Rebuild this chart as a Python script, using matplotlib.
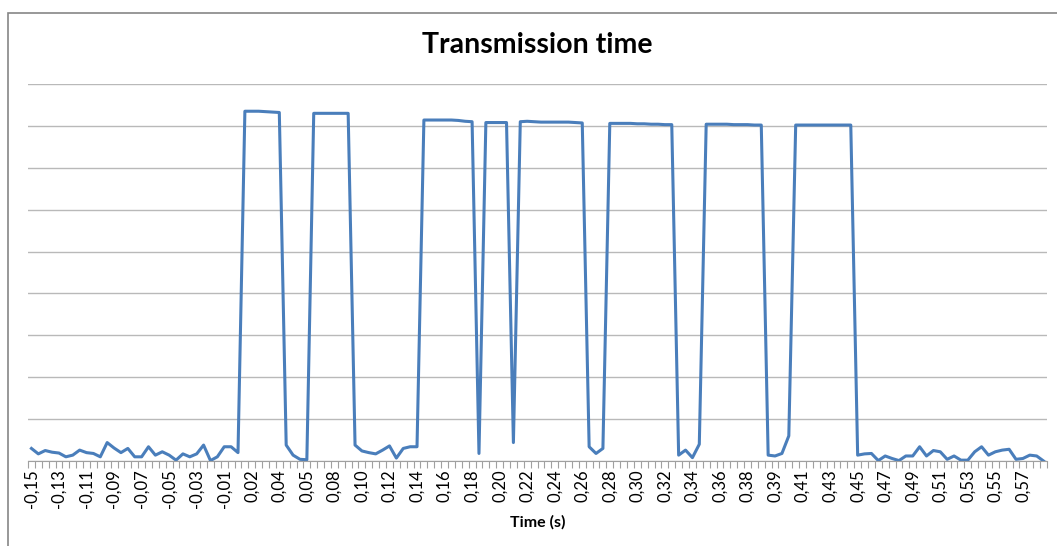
import matplotlib
matplotlib.use("Agg")
import numpy as np
from matplotlib import pyplot as plt
from matplotlib.patches import Rectangle

# time labels shown on the category axis (every 4th sample)
time_labels = ["-0,15", "-0,13", "-0,11", "-0,09", "-0,07", "-0,05", "-0,03", "-0,01",
               "0,02", "0,04", "0,05", "0,08", "0,10", "0,12", "0,14", "0,16", "0,18",
               "0,20", "0,22", "0,24", "0,26", "0,28", "0,30", "0,32", "0,34", "0,36",
               "0,38", "0,39", "0,41", "0,43", "0,45", "0,47", "0,49", "0,51", "0,53",
               "0,55", "0,57"]
label_step = 4

# signal level per sample (arbitrary units, gridline = 1)
signal = [0.30, 0.17, 0.25, 0.21, 0.19, 0.10, 0.14, 0.26, 0.20, 0.18,
          0.10, 0.44, 0.31, 0.20, 0.30, 0.10, 0.10, 0.34, 0.14, 0.22,
          0.14, 0.02, 0.17, 0.10, 0.17, 0.38, 0.01, 0.10, 0.34, 0.34,
          0.20, 8.35, 8.35, 8.35, 8.34, 8.33, 8.32, 0.38, 0.14, 0.04,
          0.03, 8.30, 8.30, 8.30, 8.30, 8.30, 8.30, 0.38, 0.24, 0.20,
          0.17, 0.26, 0.36, 0.07, 0.30, 0.34, 0.34, 8.14, 8.14, 8.14,
          8.14, 8.14, 8.13, 8.11, 8.10, 0.18, 8.08, 8.08, 8.08, 8.08,
          0.44, 8.10, 8.11, 8.10, 8.09, 8.09, 8.09, 8.09, 8.09, 8.08,
          8.07, 0.34, 0.18, 0.30, 8.06, 8.06, 8.06, 8.06, 8.05, 8.05,
          8.04, 8.04, 8.03, 8.03, 0.14, 0.26, 0.08, 0.40, 8.04, 8.04,
          8.04, 8.04, 8.03, 8.03, 8.03, 8.02, 8.02, 0.14, 0.12, 0.18,
          0.60, 8.02, 8.02, 8.02, 8.02, 8.02, 8.02, 8.02, 8.02, 8.02,
          0.14, 0.17, 0.18, 0.01, 0.12, 0.06, 0.01, 0.12, 0.12, 0.34,
          0.12, 0.25, 0.22, 0.04, 0.12, 0.02, 0.02, 0.22, 0.34, 0.14,
          0.22, 0.26, 0.28, 0.04, 0.06, 0.14, 0.12, 0.00]

plt.rcParams['font.family'] = ['Lato', 'DejaVu Sans']

fig = plt.figure(figsize=(10.57, 5.46), dpi=100)
fig.add_artist(Rectangle((8 / 1057, -0.1), 2, 1 - 13 / 546 + 0.1,
                         transform=fig.transFigure, fill=False,
                         edgecolor="#868686", lw=1.2))
ax = fig.add_axes([28 / 1057, 1 - 461 / 546, 1019 / 1057, 377 / 546])

n = len(signal)
ax.plot(np.arange(n), signal, color="#4a7ebb", lw=2.2, solid_joinstyle="round")

ax.set_xlim(-0.5, n - 0.5)
ax.set_ylim(0, 9)
ax.set_yticks(np.arange(0, 10))
ax.yaxis.grid(True, color="#b9b9b9", lw=1)
ax.set_axisbelow(True)
ax.tick_params(axis="y", left=False, labelleft=False)

ax.set_xticks(np.arange(0, n, label_step))
ax.set_xticklabels(time_labels, rotation=90, fontsize=12)
ax.tick_params(axis="x", length=0, pad=6)
ax.set_xticks(np.arange(-0.5, n, 1), minor=True)
ax.tick_params(axis="x", which="minor", length=5, color="#a0a0a0", width=0.8)

for s in ["left", "right", "top"]:
    ax.spines[s].set_visible(False)
ax.spines["bottom"].set_color("#a0a0a0")

ax.set_xlabel("Time (s)", fontsize=11.5, fontweight="bold", labelpad=5)
fig.text(537 / 1057, 1 - 45 / 546, "Transmission time", ha="center", va="center",
         fontsize=20.5, fontweight="bold")

fig.savefig("out.png", dpi=100)
